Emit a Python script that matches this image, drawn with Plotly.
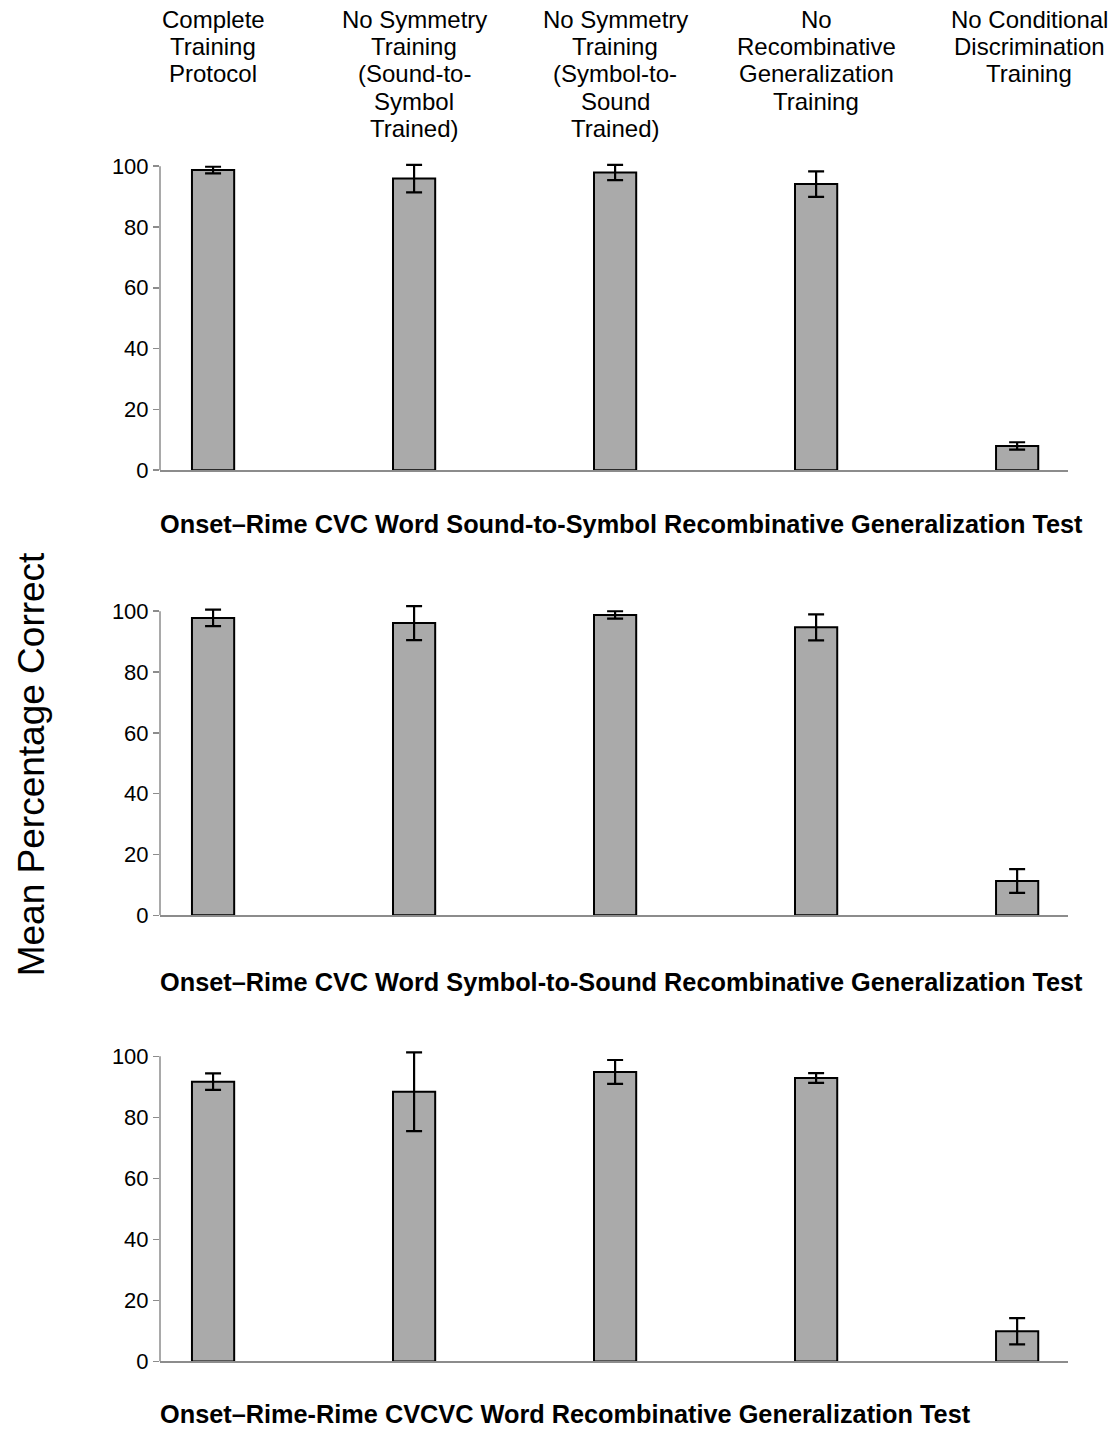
import plotly.graph_objects as go

# ---------------- data ----------------
categories = [
    "Complete\nTraining\nProtocol",
    "No Symmetry\nTraining\n(Sound-to-\nSymbol\nTrained)",
    "No Symmetry\nTraining\n(Symbol-to-\nSound\nTrained)",
    "No\nRecombinative\nGeneralization\nTraining",
    "No Conditional\nDiscrimination\nTraining",
]

panel_titles = [
    "Onset–Rime CVC Word Sound-to-Symbol Recombinative Generalization Test",
    "Onset–Rime CVC Word Symbol-to-Sound Recombinative Generalization Test",
    "Onset–Rime-Rime CVCVC Word Recombinative Generalization Test",
]

means_sound_to_symbol = [98.7, 95.9, 97.9, 94.1, 8.0]
errors_sound_to_symbol = [1.1, 4.5, 2.5, 4.2, 1.2]

means_symbol_to_sound = [97.8, 96.1, 98.8, 94.7, 11.3]
errors_symbol_to_sound = [2.7, 5.6, 1.2, 4.3, 3.9]

means_cvcvc = [91.7, 88.4, 94.9, 92.9, 9.9]
errors_cvcvc = [2.7, 12.9, 3.9, 1.6, 4.3]

y_ticks = [0, 20, 40, 60, 80, 100]
y_title = "Mean Percentage Correct"

panels = [
    (means_sound_to_symbol, errors_sound_to_symbol),
    (means_symbol_to_sound, errors_symbol_to_sound),
    (means_cvcvc, errors_cvcvc),
]

# ---------------- layout constants ----------------
W, H = 1120, 1446
FONT = "Liberation Sans, Arial, Helvetica, sans-serif"
# target positions (pixels of the 1120x1430 picture)
zero_px = [471, 916, 1362]
hundred_px = [167, 612, 1057]
title_px = [525, 983, 1415]
YMAX = 103.0
x_left_px, x_right_px = 160, 1068
x_range = [-0.264, 4.253]

def vy(r):
    # compensate the small vertical compression seen in the rendered picture
    return (r - 3.9) / 0.9887

def px(p):
    return p / W

def py(p):
    return 1 - vy(p) / H

fig = go.Figure()
xpos = list(range(len(categories)))

annotations = []
shapes = []
for k, (means, errs) in enumerate(panels):
    ax = "" if k == 0 else str(k + 1)
    fig.add_trace(go.Bar(
        x=xpos, y=means,
        width=0.21,
        marker=dict(color="#aaaaaa", line=dict(color="black", width=2)),
        error_y=dict(type="data", array=errs, visible=True,
                     color="black", thickness=2.2, width=8),
        xaxis="x" + ax, yaxis="y" + ax,
        showlegend=False, hoverinfo="y",
    ))
    z, h = zero_px[k], hundred_px[k]
    top = z - (z - h) * YMAX / 100.0
    fig.layout["xaxis" + ax] = dict(
        domain=[px(x_left_px), px(x_right_px)],
        range=x_range, showticklabels=False, ticks="",
        showgrid=False, zeroline=False, showline=True,
        linecolor="#8c8c8c", linewidth=1.5,
        anchor="y" + ax, fixedrange=True,
    )
    fig.layout["yaxis" + ax] = dict(
        domain=[py(z), py(top)],
        range=[0, YMAX], tickvals=y_ticks,
        ticks="outside", ticklen=6, tickcolor="#8c8c8c", tickwidth=1.5,
        tickfont=dict(family=FONT, size=22, color="black"),
        showgrid=False, zeroline=False, showline=False,
        anchor="x" + ax, fixedrange=True,
    )
    shapes.append(dict(
        type="line", xref="x" + ax + " domain", yref="y" + ax,
        x0=0, x1=0, y0=0, y1=100,
        line=dict(color="#8c8c8c", width=1.5),
    ))
    annotations.append(dict(
        text="<b>" + panel_titles[k] + "</b>",
        xref="paper", yref="paper", x=px(158), y=py(title_px[k]),
        xanchor="left", yanchor="middle", showarrow=False,
        font=dict(family=FONT, size=25.3, color="black"),
    ))

# category labels on top
for i, cat in enumerate(categories):
    for j, line in enumerate(cat.split("\n")):
        annotations.append(dict(
            text=line, xref="x", yref="paper", x=xpos[i],
            y=py(20 + 27.3 * j), xanchor="center", yanchor="middle",
            xshift=12 if i == len(categories) - 1 else 0,
            showarrow=False,
            font=dict(family=FONT, size=24, color="black"),
        ))

annotations.append(dict(
    text=y_title, xref="paper", yref="paper", x=px(31), y=py(765),
    xanchor="center", yanchor="middle", textangle=-90, showarrow=False,
    font=dict(family=FONT, size=37, color="black"),
))

fig.update_layout(
    width=W, height=H,
    margin=dict(l=0, r=0, t=0, b=0),
    paper_bgcolor="white", plot_bgcolor="white",
    annotations=annotations, shapes=shapes,
    font=dict(family=FONT, color="black"),
)

fig.write_html("out.html",
               config=dict(displayModeBar=False, staticPlot=True),
               post_script="document.body.style.margin='0px';")
